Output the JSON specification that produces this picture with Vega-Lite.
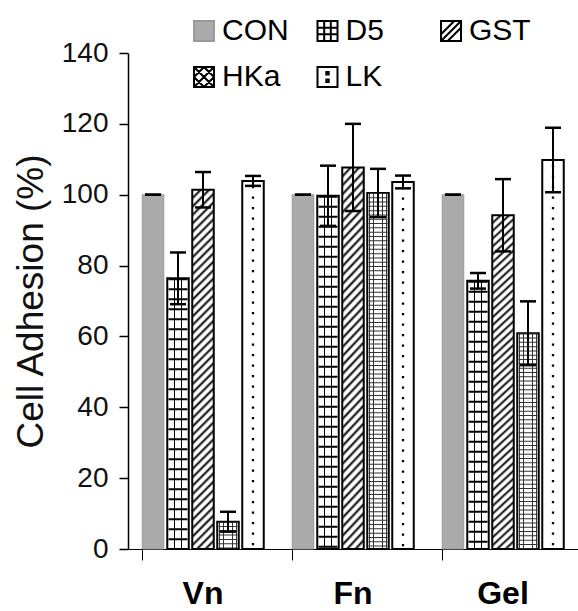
{
  "$schema": "https://vega.github.io/schema/vega-lite/v6.json",
  "width": 450,
  "height": 496,
  "autosize": {"type": "none"},
  "padding": {"left": 128, "top": 53, "right": 0, "bottom": 62},
  "background": "white",
  "config": {"view": {"stroke": null}},
  "data": {"values": [
    {"group": "Vn", "series": "CON", "value": 100, "lo": 100, "hi": 100},
    {"group": "Vn", "series": "D5", "value": 76.4, "lo": 69.1, "hi": 83.7},
    {"group": "Vn", "series": "GST", "value": 101.4, "lo": 96.4, "hi": 106.4},
    {"group": "Vn", "series": "HKa", "value": 7.7, "lo": 4.9, "hi": 10.5},
    {"group": "Vn", "series": "LK", "value": 103.9, "lo": 102.5, "hi": 105.3},
    {"group": "Fn", "series": "CON", "value": 100, "lo": 100, "hi": 100},
    {"group": "Fn", "series": "D5", "value": 99.7, "lo": 91.2, "hi": 108.2},
    {"group": "Fn", "series": "GST", "value": 107.7, "lo": 95.4, "hi": 120},
    {"group": "Fn", "series": "HKa", "value": 100.5, "lo": 93.7, "hi": 107.3},
    {"group": "Fn", "series": "LK", "value": 103.6, "lo": 101.8, "hi": 105.4},
    {"group": "Gel", "series": "CON", "value": 100, "lo": 100, "hi": 100},
    {"group": "Gel", "series": "D5", "value": 75.7, "lo": 73.5, "hi": 77.9},
    {"group": "Gel", "series": "GST", "value": 94.2, "lo": 84, "hi": 104.4},
    {"group": "Gel", "series": "HKa", "value": 60.9, "lo": 51.9, "hi": 69.9},
    {"group": "Gel", "series": "LK", "value": 109.8, "lo": 100.7, "hi": 118.9}
  ]},
  "encoding": {
    "x": {"field": "group", "type": "nominal", "sort": ["Vn", "Fn", "Gel"],
      "scale": {"domain": ["Vn", "Fn", "Gel"], "paddingInner": 0.19, "paddingOuter": 0.095},
      "axis": {"title": null, "labelAngle": 0, "labelFont": "Liberation Sans", "labelFontSize": 32, "labelFontWeight": "bold", "labelColor": "#000", "labelBaseline": "alphabetic", "labelPadding": 43, "tickSize": 11, "tickColor": "#000", "tickWidth": 1, "bandPosition": 0, "domainColor": "#000", "domainWidth": 1}},
    "xOffset": {"field": "series", "type": "nominal", "scale": {"domain": ["CON", "D5", "GST", "HKa", "LK"], "paddingInner": 0.14, "paddingOuter": 0}},
    "y": {"field": "value", "type": "quantitative", "title": "Cell Adhesion (%)",
      "scale": {"domain": [0, 140], "nice": false},
      "axis": {"values": [0, 20, 40, 60, 80, 100, 120, 140], "grid": false, "labelFont": "Liberation Sans", "labelFontSize": 28, "labelColor": "#111", "labelPadding": 11, "tickSize": 9, "tickWidth": 1.5, "tickColor": "#000", "domainColor": "#000", "domainWidth": 1.5, "titleFont": "Liberation Sans", "titleFontSize": 37, "titleFontWeight": "normal", "titleColor": "#111", "titleX": -86, "titleY": 248, "titleAngle": -90, "titleBaseline": "alphabetic", "titleAlign": "center"}}
  },
  "layer": [
    {
      "transform": [{"filter": "datum.series === 'CON'"}],
      "mark": {"type": "bar", "fill": "#aaaaaa", "stroke": "#999999", "strokeWidth": 1}
    },
    {
      "transform": [{"filter": "datum.series === 'D5'"}],
      "mark": {"type": "bar", "stroke": "#000", "strokeWidth": 2,
        "fill": {"gradient": "linear", "x1": 0, "y1": 0, "x2": 1, "y2": 0, "stops": [
          {"offset": 0, "color": "#fff"}, {"offset": 0.3, "color": "#fff"}, {"offset": 0.3, "color": "#000"}, {"offset": 0.38, "color": "#000"}, {"offset": 0.38, "color": "#fff"}, {"offset": 0.62, "color": "#fff"}, {"offset": 0.62, "color": "#000"}, {"offset": 0.7, "color": "#000"}, {"offset": 0.7, "color": "#fff"}, {"offset": 1, "color": "#fff"}]}}
    },
    {
      "transform": [{"filter": "datum.series === 'D5'"}],
      "mark": {"type": "rule", "color": "#000", "strokeWidth": 19, "strokeDash": [2, 8], "strokeCap": "butt"},
      "encoding": {"y2": {"datum": 0}}
    },
    {
      "transform": [{"filter": "datum.series === 'GST'"}],
      "mark": {"type": "bar", "stroke": "#000", "strokeWidth": 2,
        "fill": {"gradient": "linear", "x1": 0, "y1": 0, "x2": 0.0634, "y2": 1.0563, "stops": [
          {"offset": 0, "color": "#000"}, {"offset": 0.0078, "color": "#fff"}, {"offset": 0.0156, "color": "#fff"},
          {"offset": 0.0222, "color": "#000"}, {"offset": 0.03, "color": "#fff"}, {"offset": 0.0378, "color": "#fff"},
          {"offset": 0.0444, "color": "#000"}, {"offset": 0.0522, "color": "#fff"}, {"offset": 0.06, "color": "#fff"},
          {"offset": 0.0667, "color": "#000"}, {"offset": 0.0744, "color": "#fff"}, {"offset": 0.0822, "color": "#fff"},
          {"offset": 0.0889, "color": "#000"}, {"offset": 0.0967, "color": "#fff"}, {"offset": 0.1044, "color": "#fff"},
          {"offset": 0.1111, "color": "#000"}, {"offset": 0.1189, "color": "#fff"}, {"offset": 0.1267, "color": "#fff"},
          {"offset": 0.1333, "color": "#000"}, {"offset": 0.1411, "color": "#fff"}, {"offset": 0.1489, "color": "#fff"},
          {"offset": 0.1556, "color": "#000"}, {"offset": 0.1633, "color": "#fff"}, {"offset": 0.1711, "color": "#fff"},
          {"offset": 0.1778, "color": "#000"}, {"offset": 0.1856, "color": "#fff"}, {"offset": 0.1933, "color": "#fff"},
          {"offset": 0.2, "color": "#000"}, {"offset": 0.2078, "color": "#fff"}, {"offset": 0.2156, "color": "#fff"},
          {"offset": 0.2222, "color": "#000"}, {"offset": 0.23, "color": "#fff"}, {"offset": 0.2378, "color": "#fff"},
          {"offset": 0.2444, "color": "#000"}, {"offset": 0.2522, "color": "#fff"}, {"offset": 0.26, "color": "#fff"},
          {"offset": 0.2667, "color": "#000"}, {"offset": 0.2744, "color": "#fff"}, {"offset": 0.2822, "color": "#fff"},
          {"offset": 0.2889, "color": "#000"}, {"offset": 0.2967, "color": "#fff"}, {"offset": 0.3044, "color": "#fff"},
          {"offset": 0.3111, "color": "#000"}, {"offset": 0.3189, "color": "#fff"}, {"offset": 0.3267, "color": "#fff"},
          {"offset": 0.3333, "color": "#000"}, {"offset": 0.3411, "color": "#fff"}, {"offset": 0.3489, "color": "#fff"},
          {"offset": 0.3556, "color": "#000"}, {"offset": 0.3633, "color": "#fff"}, {"offset": 0.3711, "color": "#fff"},
          {"offset": 0.3778, "color": "#000"}, {"offset": 0.3856, "color": "#fff"}, {"offset": 0.3933, "color": "#fff"},
          {"offset": 0.4, "color": "#000"}, {"offset": 0.4078, "color": "#fff"}, {"offset": 0.4156, "color": "#fff"},
          {"offset": 0.4222, "color": "#000"}, {"offset": 0.43, "color": "#fff"}, {"offset": 0.4378, "color": "#fff"},
          {"offset": 0.4444, "color": "#000"}, {"offset": 0.4522, "color": "#fff"}, {"offset": 0.46, "color": "#fff"},
          {"offset": 0.4667, "color": "#000"}, {"offset": 0.4744, "color": "#fff"}, {"offset": 0.4822, "color": "#fff"},
          {"offset": 0.4889, "color": "#000"}, {"offset": 0.4967, "color": "#fff"}, {"offset": 0.5044, "color": "#fff"},
          {"offset": 0.5111, "color": "#000"}, {"offset": 0.5189, "color": "#fff"}, {"offset": 0.5267, "color": "#fff"},
          {"offset": 0.5333, "color": "#000"}, {"offset": 0.5411, "color": "#fff"}, {"offset": 0.5489, "color": "#fff"},
          {"offset": 0.5556, "color": "#000"}, {"offset": 0.5633, "color": "#fff"}, {"offset": 0.5711, "color": "#fff"},
          {"offset": 0.5778, "color": "#000"}, {"offset": 0.5856, "color": "#fff"}, {"offset": 0.5933, "color": "#fff"},
          {"offset": 0.6, "color": "#000"}, {"offset": 0.6078, "color": "#fff"}, {"offset": 0.6156, "color": "#fff"},
          {"offset": 0.6222, "color": "#000"}, {"offset": 0.63, "color": "#fff"}, {"offset": 0.6378, "color": "#fff"},
          {"offset": 0.6444, "color": "#000"}, {"offset": 0.6522, "color": "#fff"}, {"offset": 0.66, "color": "#fff"},
          {"offset": 0.6667, "color": "#000"}, {"offset": 0.6744, "color": "#fff"}, {"offset": 0.6822, "color": "#fff"},
          {"offset": 0.6889, "color": "#000"}, {"offset": 0.6967, "color": "#fff"}, {"offset": 0.7044, "color": "#fff"},
          {"offset": 0.7111, "color": "#000"}, {"offset": 0.7189, "color": "#fff"}, {"offset": 0.7267, "color": "#fff"},
          {"offset": 0.7333, "color": "#000"}, {"offset": 0.7411, "color": "#fff"}, {"offset": 0.7489, "color": "#fff"},
          {"offset": 0.7556, "color": "#000"}, {"offset": 0.7633, "color": "#fff"}, {"offset": 0.7711, "color": "#fff"},
          {"offset": 0.7778, "color": "#000"}, {"offset": 0.7856, "color": "#fff"}, {"offset": 0.7933, "color": "#fff"},
          {"offset": 0.8, "color": "#000"}, {"offset": 0.8078, "color": "#fff"}, {"offset": 0.8156, "color": "#fff"},
          {"offset": 0.8222, "color": "#000"}, {"offset": 0.83, "color": "#fff"}, {"offset": 0.8378, "color": "#fff"},
          {"offset": 0.8444, "color": "#000"}, {"offset": 0.8522, "color": "#fff"}, {"offset": 0.86, "color": "#fff"},
          {"offset": 0.8667, "color": "#000"}, {"offset": 0.8744, "color": "#fff"}, {"offset": 0.8822, "color": "#fff"},
          {"offset": 0.8889, "color": "#000"}, {"offset": 0.8967, "color": "#fff"}, {"offset": 0.9044, "color": "#fff"},
          {"offset": 0.9111, "color": "#000"}, {"offset": 0.9189, "color": "#fff"}, {"offset": 0.9267, "color": "#fff"},
          {"offset": 0.9333, "color": "#000"}, {"offset": 0.9411, "color": "#fff"}, {"offset": 0.9489, "color": "#fff"},
          {"offset": 0.9556, "color": "#000"}, {"offset": 0.9633, "color": "#fff"}, {"offset": 0.9711, "color": "#fff"},
          {"offset": 0.9778, "color": "#000"}, {"offset": 0.9856, "color": "#fff"}, {"offset": 0.9933, "color": "#fff"},
          {"offset": 1, "color": "#000"}]}}
    },
    {
      "transform": [{"filter": "datum.series === 'HKa'"}],
      "mark": {"type": "bar", "stroke": "#000", "strokeWidth": 2,
        "fill": {"gradient": "linear", "x1": 0, "y1": 0, "x2": 1, "y2": 0, "stops": [
          {"offset": 0, "color": "#fff"}, {"offset": 0.08, "color": "#fff"}, {"offset": 0.08, "color": "#333"}, {"offset": 0.12, "color": "#333"}, {"offset": 0.12, "color": "#fff"},
          {"offset": 0.28, "color": "#fff"}, {"offset": 0.28, "color": "#333"}, {"offset": 0.32, "color": "#333"}, {"offset": 0.32, "color": "#fff"},
          {"offset": 0.48, "color": "#fff"}, {"offset": 0.48, "color": "#333"}, {"offset": 0.52, "color": "#333"}, {"offset": 0.52, "color": "#fff"},
          {"offset": 0.68, "color": "#fff"}, {"offset": 0.68, "color": "#333"}, {"offset": 0.72, "color": "#333"}, {"offset": 0.72, "color": "#fff"},
          {"offset": 0.88, "color": "#fff"}, {"offset": 0.88, "color": "#333"}, {"offset": 0.92, "color": "#333"}, {"offset": 0.92, "color": "#fff"},
          {"offset": 1, "color": "#fff"}]}}
    },
    {
      "transform": [{"filter": "datum.series === 'HKa'"}],
      "mark": {"type": "rule", "color": "#333", "strokeWidth": 19, "strokeDash": [1, 3.3], "strokeCap": "butt"},
      "encoding": {"y2": {"datum": 0}}
    },
    {
      "transform": [{"filter": "datum.series === 'LK'"}],
      "mark": {"type": "bar", "fill": "#fff", "stroke": "#000", "strokeWidth": 2}
    },
    {
      "transform": [{"filter": "datum.series === 'LK'"}],
      "mark": {"type": "rule", "color": "#000", "strokeWidth": 2.3, "strokeDash": [2.3, 8.2], "strokeDashOffset": -5, "strokeCap": "butt"},
      "encoding": {"y2": {"datum": 0}}
    },
    {
      "mark": {"type": "rule", "color": "#000", "strokeWidth": 2},
      "encoding": {
        "y": {"field": "lo", "type": "quantitative", "title": "Cell Adhesion (%)"},
        "y2": {"field": "hi"}
      }
    },
    {
      "mark": {"type": "tick", "color": "#000", "size": 16, "thickness": 2.5, "opacity": 1},
      "encoding": {"y": {"field": "hi", "type": "quantitative", "title": "Cell Adhesion (%)"}}
    },
    {
      "mark": {"type": "tick", "color": "#000", "size": 16, "thickness": 2.5, "opacity": 1},
      "encoding": {"y": {"field": "lo", "type": "quantitative", "title": "Cell Adhesion (%)"}}
    },
    {
      "mark": {"type": "point", "opacity": 0, "filled": true},
      "encoding": {
        "shape": {"field": "series", "type": "nominal",
          "scale": {"domain": ["CON", "D5", "GST", "HKa", "LK"], "range": [
            "M-1,-1H1V1H-1Z",
            "M-1,-1H1V1H-1Z M-0.33,-1V1 M0.33,-1V1 M-1,-0.33H1 M-1,0.33H1",
            "M-1,-1H1V1H-1Z M-1,0.33L0.33,-1 M-1,1L1,-1 M-0.33,1L1,-0.33",
            "M-1,-1H1V1H-1Z M-1,0L0,-1 M-1,1L1,-1 M0,1L1,0 M-1,0L0,1 M-1,-1L1,1 M0,-1L1,0",
            "M-1,-1H1V1H-1Z M-0.12,-0.5H0.12V-0.26H-0.12Z M-0.12,0.26H0.12V0.5H-0.12Z"]},
          "legend": {"title": null, "orient": "none", "direction": "horizontal", "legendX": 61, "legendY": -37, "columns": 3, "gridAlign": "all", "columnPadding": 23.5, "rowPadding": 16, "symbolSize": 400, "symbolStrokeWidth": 2, "symbolOpacity": 1, "labelFont": "Liberation Sans", "labelFontSize": 30, "labelColor": "#000", "labelOffset": 3, "padding": 0, "labelLimit": 200}},
        "fill": {"field": "series", "type": "nominal",
          "scale": {"domain": ["CON", "D5", "GST", "HKa", "LK"], "range": ["#aaaaaa", "#ffffff", "#ffffff", "#ffffff", "#ffffff"]},
          "legend": {"title": null, "orient": "none", "direction": "horizontal", "legendX": 61, "legendY": -37, "columns": 3, "gridAlign": "all", "columnPadding": 23.5, "rowPadding": 16, "symbolSize": 400, "symbolStrokeWidth": 2, "symbolOpacity": 1, "labelFont": "Liberation Sans", "labelFontSize": 30, "labelColor": "#000", "labelOffset": 3, "padding": 0, "labelLimit": 200}},
        "stroke": {"field": "series", "type": "nominal",
          "scale": {"domain": ["CON", "D5", "GST", "HKa", "LK"], "range": ["#999999", "#000000", "#000000", "#000000", "#000000"]},
          "legend": {"title": null, "orient": "none", "direction": "horizontal", "legendX": 61, "legendY": -37, "columns": 3, "gridAlign": "all", "columnPadding": 23.5, "rowPadding": 16, "symbolSize": 400, "symbolStrokeWidth": 2, "symbolOpacity": 1, "labelFont": "Liberation Sans", "labelFontSize": 30, "labelColor": "#000", "labelOffset": 3, "padding": 0, "labelLimit": 200}}
      }
    }
  ]
}
